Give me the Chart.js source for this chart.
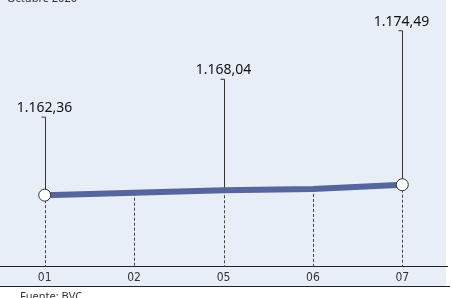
<!DOCTYPE html>
<html>
<head>
<meta charset="utf-8">
<script src="https://cdn.jsdelivr.net/npm/chart.js@4"></script>
<style>
  html, body { margin: 0; padding: 0; background: #fff; }
  #caja { position: relative; width: 452px; height: 298px; }
</style>
</head>
<body>
<div id="caja"><canvas id="grafico" width="452" height="298"></canvas></div>
<script>
// datos
const dias = ['01', '02', '05', '06', '07'];
const valores = [1162.36, 1165.2, 1168.04, 1169.6, 1174.49];
const etiquetas = ['1.162,36', '', '1.168,04', '', '1.174,49'];
const titulo = 'Octubre 2020';
const fuente = 'Fuente: BVC';

// fondo, guias y etiquetas
const guias = {
  id: 'guias',
  beforeDraw(chart) {
    const c = chart.ctx;
    c.save();
    c.fillStyle = '#e7eef7';
    c.fillRect(0, 0, 446, 286);
    c.strokeStyle = '#222';
    c.lineWidth = 1;
    c.beginPath();
    c.moveTo(0, 286.5);
    c.lineTo(450, 286.5);
    c.stroke();
    c.restore();
  },
  beforeDatasetsDraw(chart, args, opts) {
    const c = chart.ctx;
    const area = chart.chartArea;
    const meta = chart.getDatasetMeta(0);
    c.save();
    c.lineWidth = 1;
    meta.data.forEach((p, i) => {
      const x = Math.round(p.x) + 0.5;
      // punteada hacia el eje
      c.strokeStyle = '#444';
      c.setLineDash([3, 2]);
      c.beginPath();
      c.moveTo(x, p.y);
      c.lineTo(x, area.bottom);
      c.stroke();
      c.setLineDash([]);
      if (etiquetas[i]) {
        const top = p.y - opts.alturas[i];
        c.strokeStyle = '#333';
        c.beginPath();
        c.moveTo(x - 4, top);
        c.lineTo(x, top);
        c.lineTo(x, p.y);
        c.stroke();
        c.fillStyle = '#111';
        c.font = '14px "Noto Sans"';
        c.textAlign = 'center';
        c.textBaseline = 'middle';
        c.fillText(etiquetas[i], x - 1, top - 9);
      }
    });
    c.restore();
  },
  afterDraw(chart) {
    const c = chart.ctx;
    c.save();
    c.fillStyle = '#333';
    c.font = '11px "Noto Sans"';
    c.textAlign = 'left';
    c.textBaseline = 'alphabetic';
    c.fillText(titulo, 7, 2);
    c.fillText(fuente, 20, 300);
    c.restore();
  }
};

new Chart(document.getElementById('grafico'), {
  type: 'line',
  data: {
    labels: dias,
    datasets: [{
      data: valores,
      borderColor: '#56659c',
      borderWidth: 6,
      pointRadius: [6, 0, 0, 0, 6],
      pointBackgroundColor: '#fff',
      pointBorderColor: '#333',
      pointBorderWidth: 1,
      tension: 0
    }]
  },
  options: {
    responsive: false,
    animation: false,
    layout: { autoPadding: false, padding: { left: 0, right: 5, top: 0, bottom: 9 } },
    plugins: {
      legend: { display: false },
      tooltip: { enabled: false },
      guias: { alturas: [78, 0, 111, 0, 154] }
    },
    scales: {
      x: {
        offset: true,
        grid: { display: false, drawTicks: false, tickLength: 0 },
        border: { display: true, color: '#222', width: 1 },
        ticks: { color: '#333', padding: 4, font: { family: '"DejaVu Sans Condensed", "Liberation Sans Narrow", sans-serif', size: 12 } }
      },
      y: {
        display: false,
        min: 1079,
        max: 1390
      }
    }
  },
  plugins: [guias]
});
</script>
</body>
</html>
